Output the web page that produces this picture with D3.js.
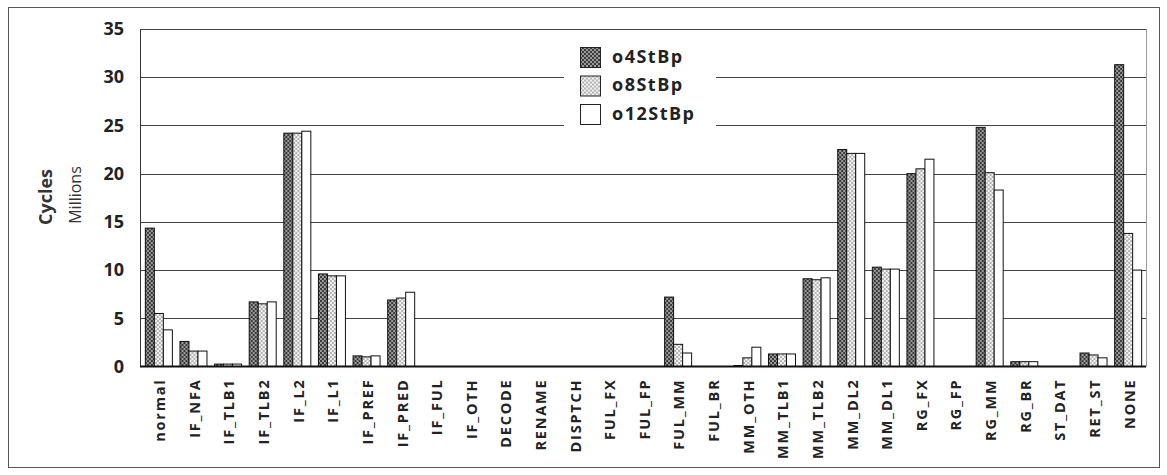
<!DOCTYPE html>
<html>
<head>
<meta charset="utf-8">
<script src="https://cdn.jsdelivr.net/npm/d3@7"></script>
<style>
  html, body { margin: 0; padding: 0; background: #fff; }
  svg { display: block; font-family: "Open Sans", "Lato", sans-serif; }
</style>
</head>
<body>
<svg id="chart" width="1167" height="475"></svg>
<script>
// Stall categories (x axis)
const categories = ["normal", "IF_NFA", "IF_TLB1", "IF_TLB2", "IF_L2", "IF_L1", "IF_PREF", "IF_PRED",
  "IF_FUL", "IF_OTH", "DECODE", "RENAME", "DISPTCH", "FUL_FX", "FUL_FP", "FUL_MM", "FUL_BR",
  "MM_OTH", "MM_TLB1", "MM_TLB2", "MM_DL2", "MM_DL1", "RG_FX", "RG_FP", "RG_MM", "RG_BR",
  "ST_DAT", "RET_ST", "NONE"];

const seriesNames = ["o4StBp", "o8StBp", "o12StBp"];

// Cycles (millions) per category for each configuration
const o4StBp  = [14.35, 2.6, 0.25, 6.7, 24.2, 9.6, 1.1, 6.9, 0, 0, 0, 0, 0, 0, 0, 7.2, 0,
                 0.1, 1.3, 9.1, 22.5, 10.3, 20.0, 0, 24.8, 0.5, 0, 1.4, 31.3];
const o8StBp  = [5.5, 1.6, 0.25, 6.5, 24.2, 9.4, 1.0, 7.1, 0, 0, 0, 0, 0, 0, 0, 2.3, 0,
                 0.9, 1.3, 9.0, 22.1, 10.1, 20.5, 0, 20.1, 0.5, 0, 1.2, 13.8];
const o12StBp = [3.8, 1.6, 0.25, 6.7, 24.4, 9.4, 1.1, 7.7, 0, 0, 0, 0, 0, 0, 0, 1.4, 0,
                 2.0, 1.3, 9.2, 22.1, 10.1, 21.5, 0, 18.3, 0.5, 0, 0.9, 10.0];

const yTicks = [0, 5, 10, 15, 20, 25, 30, 35];

const seriesValues = [o4StBp, o8StBp, o12StBp];

const svg = d3.select("#chart");

// Fill patterns: dark dotted mesh, light dotted mesh, plain white
const defs = svg.append("defs");
function dotPattern(id, bg, dot) {
  const p = defs.append("pattern").attr("id", id)
    .attr("width", 4).attr("height", 4).attr("patternUnits", "userSpaceOnUse");
  p.append("rect").attr("width", 4).attr("height", 4).attr("fill", bg);
  p.append("rect").attr("x", 0).attr("y", 0).attr("width", 2).attr("height", 2).attr("fill", dot);
  p.append("rect").attr("x", 2).attr("y", 2).attr("width", 2).attr("height", 2).attr("fill", dot);
}
dotPattern("patDark", "#3a3a3a", "#9a9a9a");
dotPattern("patLight", "#f2f2f2", "#b4b4b4");

const fills = ["url(#patDark)", "url(#patLight)", "#ffffff"];

// Outer frame
svg.append("rect")
  .attr("x", 8.5).attr("y", 7.5).attr("width", 1151).attr("height", 460)
  .attr("fill", "none").attr("stroke", "#555").attr("stroke-width", 1);

const plot = { left: 140, right: 1146, top: 29, bottom: 366.5 };

const x = d3.scaleBand().domain(categories)
  .range([plot.left, plot.right]).paddingInner(0.22).paddingOuter(0.14);
const x1 = d3.scaleBand().domain(seriesNames).range([0, x.bandwidth()]);
const y = d3.scaleLinear().domain([0, 35]).range([plot.bottom, plot.top]);

// Horizontal gridlines
svg.append("g").selectAll("line").data(yTicks.filter(t => t > 0)).join("line")
  .attr("x1", plot.left).attr("x2", plot.right)
  .attr("y1", d => Math.round(y(d)) + 0.5).attr("y2", d => Math.round(y(d)) + 0.5)
  .attr("stroke", "#444").attr("stroke-width", 1);

// Plot area sides
svg.append("line").attr("x1", plot.left + 0.5).attr("x2", plot.left + 0.5)
  .attr("y1", plot.top).attr("y2", plot.bottom).attr("stroke", "#333");
svg.append("line").attr("x1", plot.right + 0.5).attr("x2", plot.right + 0.5)
  .attr("y1", plot.top).attr("y2", plot.bottom).attr("stroke", "#999");

// Bars
const groups = svg.append("g").selectAll("g").data(categories).join("g")
  .attr("transform", d => `translate(${x(d)},0)`);
groups.selectAll("rect")
  .data((c, i) => seriesNames.map((s, k) => ({ s, k, v: seriesValues[k][i] })))
  .join("rect")
  .filter(d => d.v > 0)
  .attr("x", d => x1(d.s) + 0.5)
  .attr("y", d => y(d.v))
  .attr("width", x1.bandwidth())
  .attr("height", d => y(0) - y(d.v))
  .attr("fill", d => fills[d.k])
  .attr("stroke", "#111").attr("stroke-width", 1);

// Zero baseline
svg.append("line").attr("x1", plot.left).attr("x2", plot.right)
  .attr("y1", y(0)).attr("y2", y(0)).attr("stroke", "#111").attr("stroke-width", 2);

// Y axis labels
const yAxis = d3.axisLeft(y).tickValues(yTicks).tickSize(0).tickPadding(16);
const yg = svg.append("g").attr("transform", `translate(${plot.left},0)`).call(yAxis);
yg.select(".domain").remove();
yg.selectAll("text").attr("font-size", 18).attr("font-weight", "bold")
  .attr("fill", "#222").attr("font-family", "'Open Sans', sans-serif");

// X axis labels (vertical)
const xAxis = d3.axisBottom(x).tickSize(0).tickPadding(0);
const xg = svg.append("g").attr("transform", `translate(0,${plot.bottom})`).call(xAxis);
xg.select(".domain").remove();
xg.selectAll("text")
  .attr("font-size", 14.5).attr("font-weight", "bold").attr("fill", "#222")
  .attr("letter-spacing", 1.8)
  .attr("font-family", "'Open Sans', sans-serif")
  .attr("text-anchor", "end")
  .attr("dy", null).attr("y", 0)
  .attr("transform", "translate(3,12) rotate(-90)")
  .attr("dominant-baseline", "middle");

// Y axis titles
svg.append("text")
  .attr("transform", "translate(47,197) rotate(-90)")
  .attr("text-anchor", "middle").attr("dominant-baseline", "middle")
  .attr("font-size", 18).attr("font-weight", "bold").attr("fill", "#333")
  .text("Cycles");
svg.append("text")
  .attr("transform", "translate(77,195) rotate(-90)")
  .attr("text-anchor", "middle").attr("dominant-baseline", "middle")
  .attr("font-size", 16).attr("fill", "#333")
  .text("Millions");

// Legend
const legend = svg.append("g").attr("transform", "translate(564,36)");
legend.append("rect").attr("width", 152).attr("height", 112).attr("fill", "#fff");
const items = legend.selectAll("g").data(seriesNames).join("g")
  .attr("transform", (d, i) => `translate(16,${11 + i * 28.5})`);
items.append("rect").attr("x", 0.5).attr("y", 0.5).attr("width", 20).attr("height", 20)
  .attr("fill", (d, i) => fills[i]).attr("stroke", "#222");
items.append("text").attr("x", 32).attr("y", 11)
  .attr("dominant-baseline", "middle")
  .attr("font-size", 18).attr("font-weight", "bold").attr("fill", "#222")
  .attr("letter-spacing", 1.5)
  .text(d => d);
</script>
</body>
</html>
